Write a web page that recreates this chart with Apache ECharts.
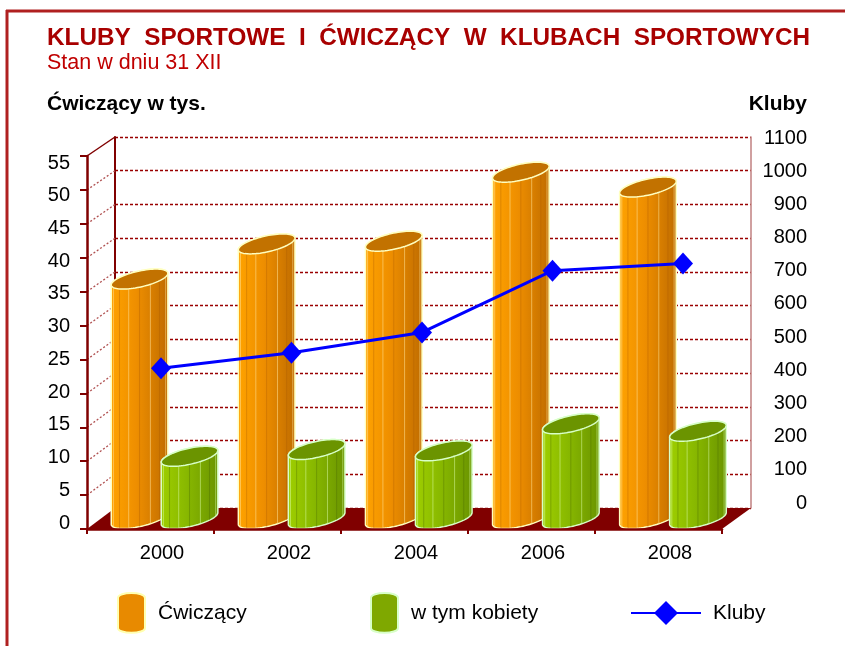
<!DOCTYPE html>
<html><head><meta charset="utf-8">
<script src="https://cdn.jsdelivr.net/npm/echarts@6/dist/echarts.min.js"></script>
<style>html,body{margin:0;padding:0;background:#fff}#c{width:845px;height:646px}</style>
</head><body><div id="c"></div>
<script>
// ---- data ----
const years = ['2000', '2002', '2004', '2006', '2008'];
const cwiczacy = [35.4, 40.6, 41.0, 51.2, 49.0];   // Ćwiczący w tys.
const kobiety = [9.2, 10.2, 10.0, 14.0, 12.9];     // w tym kobiety (tys.)
const kluby = [406, 453, 514, 700, 722];           // Kluby
const leftAxis = { min: 0, max: 55, interval: 5 };
const rightAxis = { min: 0, max: 1100, interval: 100 };

// ---- layout ----
const FONT = '"Liberation Sans", Arial, Helvetica, sans-serif';
const DARK = '#800000';
const G_FRONT = { left: 87, top: 156, width: 635, height: 373 };
const G_BACK = { left: 115, top: 137, width: 636, height: 371 };
const G_MID = { left: 101, top: 146.5, width: 635.5, height: 372 };
const G_LINE = { left: 95.75, top: 138, width: 652.5, height: 365 };
const G_LLAB = { left: 87, top: 163, width: 635, height: 360 };

const chart = echarts.init(document.getElementById('c'), null, { renderer: 'canvas' });

function cylinder(offset, c) {
  return function (params, api) {
    const i = api.value(0), v = api.value(1);
    const p = api.coord([i, v]), b = api.coord([i, 0]);
    const cx = p[0] + offset, ty = p[1], by = b[1];
    const A = 23, B = 16.5, C = 10;
    const al = Math.atan2(B, A);
    const E = t => [A * Math.cos(t) + B * Math.sin(t), -C * Math.sin(t)];
    const N = 40;
    const body = [];
    for (let k = 0; k <= N; k++) { const e = E(Math.PI + al + Math.PI * k / N); body.push([cx + e[0], by + e[1]]); }
    for (let k = 0; k <= N; k++) { const e = E(al + Math.PI * k / N); body.push([cx + e[0], ty + e[1]]); }
    const cap = [];
    for (let k = 0; k < 2 * N; k++) { const e = E(2 * Math.PI * k / (2 * N)); cap.push([cx + e[0], ty + e[1]]); }
    const children = [{
      type: 'polygon', shape: { points: body },
      style: {
        fill: { type: 'linear', x: 0, y: 0, x2: 1, y2: 0, colorStops: c.grad },
        stroke: c.stroke, lineWidth: 1.5
      }
    }];
    for (let k = 1; k < 8; k++) {
      const e = E(Math.PI + al + Math.PI * k / 8);
      children.push({
        type: 'line', shape: { x1: cx + e[0], y1: ty + e[1], x2: cx + e[0], y2: by + e[1] },
        style: { stroke: k % 2 ? c.stripeA : c.stripeB, lineWidth: 1 }
      });
    }
    children.push({ type: 'polygon', shape: { points: cap }, style: { fill: c.cap, stroke: c.stroke, lineWidth: 1.5 } });
    return { type: 'group', children };
  };
}

const ORANGE = {
  grad: [{ offset: 0, color: '#FFA300' }, { offset: 0.45, color: '#EE8E00' }, { offset: 1, color: '#BF6C00' }],
  cap: '#C27200', stroke: '#FFFFC0', stripeA: 'rgba(255,225,150,0.55)', stripeB: 'rgba(170,90,0,0.35)'
};
const GREEN = {
  grad: [{ offset: 0, color: '#9FCF00' }, { offset: 0.45, color: '#88B800' }, { offset: 1, color: '#6A9400' }],
  cap: '#6B9400', stroke: '#D8FFC8', stripeA: 'rgba(220,255,170,0.5)', stripeB: 'rgba(70,100,0,0.35)'
};

const hidden = { show: false };
const cylIcon = 'path://M0,5 C0,-1.5 27,-1.5 27,5 L27,35 C27,41.5 0,41.5 0,35 Z';

const option = {
  backgroundColor: '#ffffff',
  animation: false,
  textStyle: { fontFamily: FONT },
  title: [
    { text: 'KLUBY  SPORTOWE  I  ĆWICZĄCY  W  KLUBACH  SPORTOWYCH', left: 47, top: 26, padding: 0,
      textStyle: { fontFamily: FONT, fontSize: 24.3, fontWeight: 'bold', color: '#A80000' } },
    { text: 'Stan w dniu 31 XII', left: 47, top: 52, padding: 0,
      textStyle: { fontFamily: FONT, fontSize: 21.5, fontWeight: 'normal', color: '#C00000' } },
    { text: 'Ćwiczący w tys.', left: 47, top: 94, padding: 0,
      textStyle: { fontFamily: FONT, fontSize: 21, fontWeight: 'bold', color: '#000' } },
    { text: 'Kluby', right: 38, top: 94, padding: 0,
      textStyle: { fontFamily: FONT, fontSize: 21, fontWeight: 'bold', color: '#000' } }
  ],
  grid: [G_FRONT, G_BACK, G_MID, G_LINE, G_LLAB].map(g => Object.assign({ containLabel: false }, g)),
  xAxis: [
    { gridIndex: 0, type: 'category', data: years, boundaryGap: true, z: 4,
      axisLine: { show: true, lineStyle: { color: DARK, width: 2.5 } },
      axisTick: { show: true, length: 5, lineStyle: { color: DARK, width: 2 } },
      axisLabel: { color: '#000', fontSize: 20, fontFamily: FONT, margin: 14, padding: [0, 0, 0, 23] },
      splitLine: hidden },
    { gridIndex: 1, type: 'category', data: years, show: false },
    { gridIndex: 2, type: 'category', data: years, show: false },
    { gridIndex: 3, type: 'category', data: years, show: false },
    { gridIndex: 4, type: 'category', data: years, show: false }
  ],
  yAxis: [
    { gridIndex: 0, type: 'value', min: leftAxis.min, max: leftAxis.max, interval: leftAxis.interval, z: 4,
      axisLine: { show: true, lineStyle: { color: DARK, width: 2.5 } },
      axisTick: { show: true, length: 7, lineStyle: { color: DARK, width: 2 } },
      axisLabel: hidden, splitLine: hidden },
    { gridIndex: 1, type: 'value', min: leftAxis.min, max: leftAxis.max, interval: leftAxis.interval,
      axisLine: { show: true, lineStyle: { color: DARK, width: 2 } },
      axisTick: hidden, axisLabel: hidden,
      splitLine: { show: true, lineStyle: { color: '#990000', width: 1.3, type: [3, 2] } } },
    { gridIndex: 1, type: 'value', position: 'right', min: leftAxis.min, max: leftAxis.max, interval: leftAxis.interval,
      axisLine: { show: true, lineStyle: { color: '#C08080', width: 1.5 } },
      axisTick: hidden, axisLabel: hidden, splitLine: hidden },
    { gridIndex: 2, type: 'value', min: leftAxis.min, max: leftAxis.max, interval: leftAxis.interval, show: false },
    { gridIndex: 3, type: 'value', position: 'right', min: rightAxis.min, max: rightAxis.max, interval: rightAxis.interval,
      axisLine: hidden, axisTick: hidden, splitLine: hidden,
      axisLabel: { color: '#000', fontSize: 20, fontFamily: FONT, align: 'right', margin: 58.75, formatter: v => String(v) } },
    { gridIndex: 4, type: 'value', min: leftAxis.min, max: leftAxis.max, interval: leftAxis.interval,
      axisLine: hidden, axisTick: hidden, splitLine: hidden,
      axisLabel: { color: '#000', fontSize: 20, fontFamily: FONT, margin: 17 } }
  ],
  legend: [
    { data: ['Ćwiczący'], left: 117, top: 592, padding: 0, itemWidth: 27, itemHeight: 40, icon: cylIcon,
      textStyle: { fontSize: 21, color: '#000', fontFamily: FONT, padding: [0, 0, 0, 8] }, selectedMode: false },
    { data: ['w tym kobiety'], left: 370, top: 592, padding: 0, itemWidth: 27, itemHeight: 40, icon: cylIcon,
      textStyle: { fontSize: 21, color: '#000', fontFamily: FONT, padding: [0, 0, 0, 8] }, selectedMode: false },
    { data: ['Kluby'], left: 630, top: 601, padding: 0, itemWidth: 70, itemHeight: 30,
      textStyle: { fontSize: 21, color: '#000', fontFamily: FONT, padding: [0, 0, 0, 7] }, selectedMode: false }
  ],
  series: [
    { name: 'Ćwiczący', type: 'custom', xAxisIndex: 2, yAxisIndex: 3, z: 3,
      renderItem: cylinder(-25, ORANGE), encode: { x: 0, y: 1 },
      itemStyle: { color: '#E88A00', borderColor: '#FFFFB0', borderWidth: 1 },
      data: cwiczacy.map((v, i) => [i, v]) },
    { name: 'w tym kobiety', type: 'custom', xAxisIndex: 2, yAxisIndex: 3, z: 3,
      renderItem: cylinder(25, GREEN), encode: { x: 0, y: 1 },
      itemStyle: { color: '#7FA800', borderColor: '#D8FFC8', borderWidth: 1 },
      data: kobiety.map((v, i) => [i, v]) },
    { name: 'Kluby', type: 'line', xAxisIndex: 3, yAxisIndex: 4, z: 6,
      data: kluby, symbol: 'diamond', symbolSize: [20, 22],
      lineStyle: { color: '#0000FF', width: 3 }, itemStyle: { color: '#0000FF' } }
  ]
};

chart.setOption(option);

// ---- frame (floor, side wall, page border) from the axis scales ----
const FL = G_FRONT.left, FR = G_FRONT.left + G_FRONT.width, FB = G_FRONT.top + G_FRONT.height;
const BL = G_BACK.left, BR = G_BACK.left + G_BACK.width, BB = G_BACK.top + G_BACK.height;
const els = [];
els.push({ type: 'polygon', z: 1, shape: { points: [[FL, FB], [FR, FB], [BR, BB], [BL, BB]] }, style: { fill: DARK } });
for (let v = leftAxis.min + leftAxis.interval; v <= leftAxis.max; v += leftAxis.interval) {
  const yf = chart.convertToPixel({ yAxisIndex: 0 }, v);
  const yb = chart.convertToPixel({ yAxisIndex: 1 }, v);
  const top = v === leftAxis.max;
  els.push({ type: 'line', z: 1, shape: { x1: FL, y1: yf, x2: BL, y2: yb },
    style: top ? { stroke: DARK, lineWidth: 1.5 } : { stroke: '#B05050', lineWidth: 1.3, lineDash: [2, 2] } });
}
els.push({ type: 'line', z: 1, shape: { x1: 6, y1: 11, x2: 845, y2: 11 }, style: { stroke: '#B02020', lineWidth: 3 } });
els.push({ type: 'line', z: 1, shape: { x1: 7, y1: 10, x2: 7, y2: 646 }, style: { stroke: '#B02020', lineWidth: 3 } });
chart.setOption({ graphic: { elements: els } });
</script></body></html>
